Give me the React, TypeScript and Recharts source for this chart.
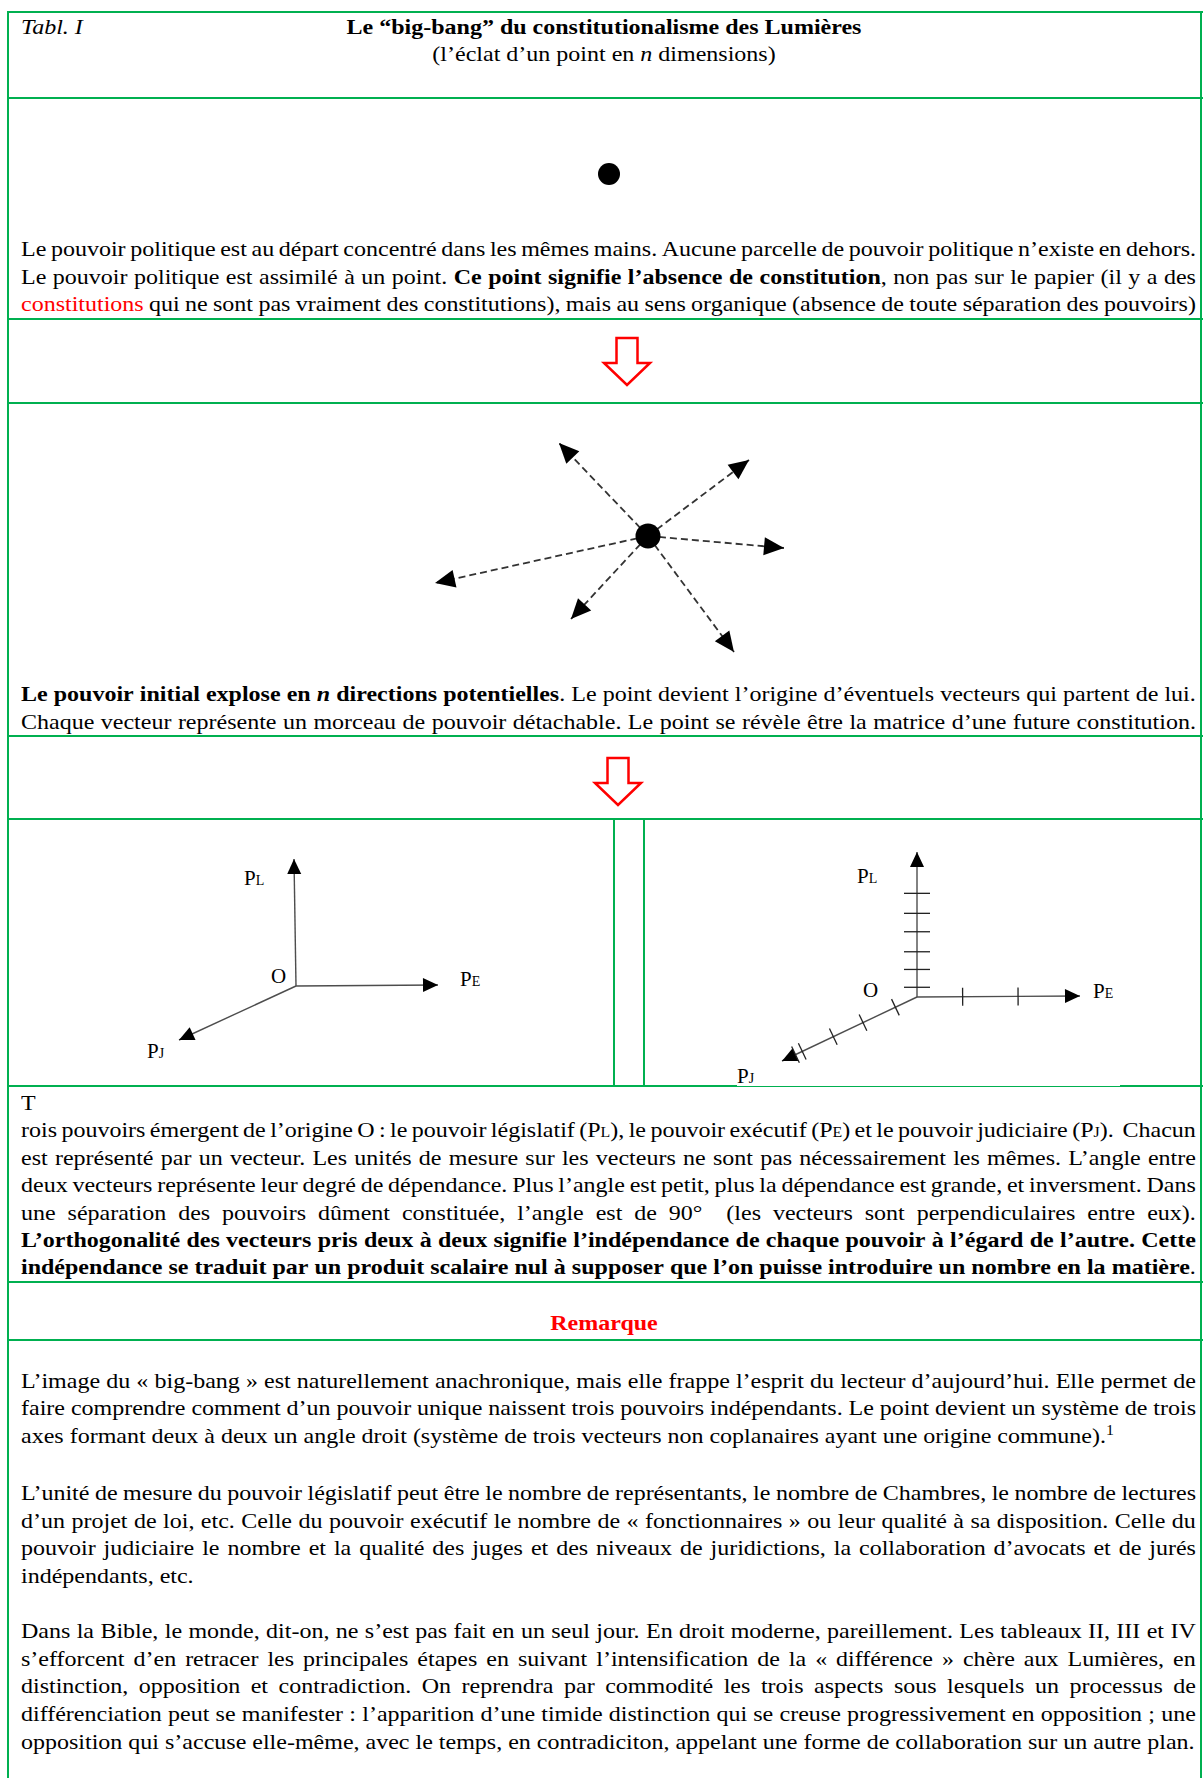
import React from 'react';
import { ScatterChart, Scatter, XAxis, YAxis } from 'recharts';

const GREEN = '#00B050';
const RED = '#FF0000';
const FONT = '"Liberation Serif", "Times New Roman", serif';

// table rules (page px)
const RULES_Y = [11, 97, 318, 402, 735, 818, 1085, 1281, 1339];
const SPLIT_X = [613, 643];

// the "big-bang": tips of the vectors leaving the point (x right, y up)
const BURST_TIPS = [
  { x: -89, y: 93 },
  { x: 101, y: 76 },
  { x: 136, y: -12 },
  { x: -213, y: -47 },
  { x: -77, y: -83 },
  { x: 86, y: -116 },
];

// three powers, left sketch (no units) and right sketch (graduated)
const AXES_LEFT = [
  { key: 'L', x: -2, y: 127 },
  { key: 'E', x: 142, y: 1 },
  { key: 'J', x: -117, y: -54 },
];
const AXES_RIGHT = [
  { key: 'L', x: 0, y: 145 },
  { key: 'E', x: 163, y: 1 },
  { key: 'J', x: -135, y: -64 },
];
// graduation marks, as a share of each vector's length
const TICKS_L = [0.067, 0.19, 0.312, 0.45, 0.577, 0.715];
const TICKS_E = [0.28, 0.62];
const TICKS_J = [0.16, 0.4, 0.62, 0.85, 0.9];

const LABELS_LEFT = [
  { x: -52, y: 101, main: 'P', sub: 'L' },
  { x: -25, y: 3, main: 'O', sub: '' },
  { x: 164, y: 0, main: 'P', sub: 'E' },
  { x: -149, y: -72, main: 'P', sub: 'J' },
];
const LABELS_RIGHT = [
  { x: -60, y: 114, main: 'P', sub: 'L' },
  { x: -54, y: 0, main: 'O', sub: '' },
  { x: 176, y: -1, main: 'P', sub: 'E' },
  { x: -180, y: -86, main: 'P', sub: 'J' },
];

// ---------- text ----------
type Seg = string | { t: string; b?: boolean; i?: boolean; red?: boolean; small?: boolean; sup?: boolean };
type TLine = { base: number; segs: Seg[]; mode?: 'justify' | 'left' };

const P1: TLine[] = [
  { base: 257.5, segs: ['Le pouvoir politique est au départ concentré dans les mêmes mains. Aucune parcelle de pouvoir politique n’existe en dehors.'] },
  { base: 285, segs: ['Le pouvoir politique est assimilé à un point. ', { t: 'Ce point signifie l’absence de constitution', b: true }, ', non pas sur le papier (il y a des'] },
  { base: 312.5, segs: [{ t: 'constitutions', red: true }, ' qui ne sont pas vraiment des constitutions), mais au sens organique (absence de toute séparation des pouvoirs)'] },
];
const P2: TLine[] = [
  { base: 702.5, segs: [{ t: 'Le pouvoir initial explose en ', b: true }, { t: 'n', b: true, i: true }, { t: ' directions potentielles', b: true }, '. Le point devient l’origine d’éventuels vecteurs qui partent de lui.'] },
  { base: 730, segs: ['Chaque vecteur représente un morceau de pouvoir détachable. Le point se révèle être la matrice d’une future constitution.'] },
];
const P3: TLine[] = [
  { base: 1111, segs: ['T'], mode: 'left' },
  { base: 1138.5, segs: ['rois pouvoirs émergent de l’origine O : le pouvoir législatif (P', { t: 'L', small: true }, '), le pouvoir exécutif (P', { t: 'E', small: true }, ') et le pouvoir judiciaire (P', { t: 'J', small: true }, ').  Chacun'] },
  { base: 1165.9, segs: ['est représenté par un vecteur. Les unités de mesure sur les vecteurs ne sont pas nécessairement les mêmes. L’angle entre'] },
  { base: 1193.3, segs: ['deux vecteurs représente leur degré de dépendance. Plus l’angle est petit, plus la dépendance est grande, et inversment. Dans'] },
  { base: 1220.7, segs: ['une séparation des pouvoirs dûment constituée, l’angle est de 90°  (les vecteurs sont perpendiculaires entre eux).'] },
  { base: 1248.1, segs: [{ t: 'L’orthogonalité des vecteurs pris deux à deux signifie l’indépendance de chaque pouvoir à l’égard de l’autre. Cette', b: true }] },
  { base: 1275.5, segs: [{ t: 'indépendance se traduit par un produit scalaire nul à supposer que l’on puisse introduire un nombre en la matière', b: true }, '.'] },
];
const R1: TLine[] = [
  { base: 1389, segs: ['L’image du « big-bang » est naturellement anachronique, mais elle frappe l’esprit du lecteur d’aujourd’hui. Elle permet de'] },
  { base: 1416.5, segs: ['faire comprendre comment d’un pouvoir unique naissent trois pouvoirs indépendants. Le point devient un système de trois'] },
  { base: 1444, segs: ['axes formant deux à deux un angle droit (système de trois vecteurs non coplanaires ayant une origine commune).', { t: '1', sup: true }], mode: 'left' },
];
const R2: TLine[] = [
  { base: 1501.5, segs: ['L’unité de mesure du pouvoir législatif peut être le nombre de représentants, le nombre de Chambres, le nombre de lectures'] },
  { base: 1529, segs: ['d’un projet de loi, etc. Celle du pouvoir exécutif le nombre de « fonctionnaires » ou leur qualité à sa disposition. Celle du'] },
  { base: 1556.5, segs: ['pouvoir judiciaire le nombre et la qualité des juges et des niveaux de juridictions, la collaboration d’avocats et de jurés'] },
  { base: 1584, segs: ['indépendants, etc.'], mode: 'left' },
];
const R3: TLine[] = [
  { base: 1639.5, segs: ['Dans la Bible, le monde, dit-on, ne s’est pas fait en un seul jour. En droit moderne, pareillement. Les tableaux II, III et IV'] },
  { base: 1667, segs: ['s’efforcent d’en retracer les principales étapes en suivant l’intensification de la « différence » chère aux Lumières, en'] },
  { base: 1694.5, segs: ['distinction, opposition et contradiction. On reprendra par commodité les trois aspects sous lesquels un processus de'] },
  { base: 1722, segs: ['différenciation peut se manifester : l’apparition d’une timide distinction qui se creuse progressivement en opposition ; une'] },
  { base: 1750, segs: ['opposition qui s’accuse elle-même, avec le temps, en contradiciton, appelant une forme de collaboration sur un autre plan.'], mode: 'left' },
];

const FS = 24;
const LH = 27.6;
const SY = 0.9;
const BASE_OFF = LH / 2 + (21.9 - LH / 2) * SY;
const TEXT_LEFT = 21;
const TEXT_W = 1175;

function segStyle(o: any): React.CSSProperties {
  return {
    fontWeight: o.b ? 700 : 400,
    fontStyle: o.i ? 'italic' : 'normal',
    color: o.red ? RED : undefined,
    fontSize: o.small || o.sup ? '0.66em' : undefined,
    verticalAlign: o.sup ? 'super' : undefined,
    lineHeight: o.sup ? 0 : undefined,
  };
}

function words(segs: Seg[]) {
  const out: any[][] = [[]];
  segs.forEach((s) => {
    const o = typeof s === 'string' ? { t: s } : s;
    o.t.split(' ').forEach((p, k) => {
      if (k > 0) out.push([]);
      if (p) out[out.length - 1].push({ ...o, t: p });
    });
  });
  return out;
}

function TextLine({ line }: { line: TLine }) {
  const base: React.CSSProperties = {
    position: 'absolute',
    left: TEXT_LEFT,
    width: TEXT_W,
    top: line.base - BASE_OFF,
    height: LH,
    lineHeight: `${LH}px`,
    fontSize: FS,
    whiteSpace: 'pre',
    transform: `scaleY(${SY})`,
  };
  if (line.mode === 'left') {
    return (
      <div style={base}>
        {line.segs.map((s, k) => {
          const o = typeof s === 'string' ? { t: s } : s;
          return <span key={k} style={segStyle(o)}>{o.t}</span>;
        })}
      </div>
    );
  }
  return (
    <div style={{ ...base, display: 'flex', justifyContent: 'space-between', alignItems: 'baseline' }}>
      {words(line.segs).map((w, i) => (
        <span key={i}>
          {w.map((o, k) => <span key={k} style={segStyle(o)}>{o.t}</span>)}
        </span>
      ))}
    </div>
  );
}

function Centered({ base, children, color, bold, italic }: any) {
  return (
    <div style={{
      position: 'absolute', left: 8, width: 1192, top: base - BASE_OFF, height: LH,
      lineHeight: `${LH}px`, fontSize: FS, textAlign: 'center', transform: `scaleY(${SY})`,
      color, fontWeight: bold ? 700 : 400, fontStyle: italic ? 'italic' : 'normal', whiteSpace: 'pre',
    }}>{children}</div>
  );
}

// ---------- chart helpers ----------
function headShape(len: number, hw: number) {
  return (props: any) => {
    const { cx, cy, payload } = props;
    if (!payload || !payload.tip) return <g />;
    const m = Math.hypot(payload.x, payload.y);
    const ux = payload.x / m;
    const uy = -payload.y / m;
    const bx = cx - ux * len;
    const by = cy - uy * len;
    const px = -uy * hw;
    const py = ux * hw;
    return <polygon points={`${cx},${cy} ${bx + px},${by + py} ${bx - px},${by - py}`} fill="#000" />;
  };
}

const tickShape = (props: any) => {
  const { cx, cy, payload } = props;
  const m = Math.hypot(payload.vx, payload.vy);
  const ux = payload.vx / m;
  const uy = -payload.vy / m;
  const h = payload.half;
  return <line x1={cx + uy * h} y1={cy - ux * h} x2={cx - uy * h} y2={cy + ux * h} stroke="#222" strokeWidth={1.3} />;
};

const labelShape = (props: any) => {
  const { cx, cy, payload } = props;
  return (
    <text x={cx} y={cy} fontFamily={FONT} fontSize={21} fill="#000">
      {payload.main}
      {payload.sub ? <tspan fontSize={14}>{payload.sub}</tspan> : null}
    </text>
  );
};

const dotShape = (r: number) => (props: any) => <circle cx={props.cx} cy={props.cy} r={r} fill="#000" />;

const redArrowShape = (props: any) => {
  const { cx, cy } = props;
  const sw = 10.5;
  const hw = 23;
  const shaft = 25;
  const head = 22;
  const pts = [
    [cx - sw, cy], [cx + sw, cy], [cx + sw, cy + shaft], [cx + hw, cy + shaft],
    [cx, cy + shaft + head], [cx - hw, cy + shaft], [cx - sw, cy + shaft],
  ].map((p) => p.join(',')).join(' ');
  return <polygon points={pts} fill="#fff" stroke={RED} strokeWidth={2.5} strokeLinejoin="miter" />;
};

function Frame({ left, top, width, height, ox, oy, children }: any) {
  return (
    <div style={{ position: 'absolute', left, top, width, height }}>
      <ScatterChart width={width} height={height} margin={{ top: 0, right: 0, bottom: 0, left: 0 }}>
        <XAxis type="number" dataKey="x" domain={[-ox, width - ox]} hide allowDataOverflow height={0} />
        <YAxis type="number" dataKey="y" domain={[oy - height, oy]} hide allowDataOverflow width={0} />
        {children}
      </ScatterChart>
    </div>
  );
}

function vectorData(v: { x: number; y: number }) {
  return [{ x: 0, y: 0 }, { x: v.x, y: v.y, tip: true }];
}

function ticksFor(axes: { key: string; x: number; y: number }[]) {
  const spec: Record<string, [number[], number]> = { L: [TICKS_L, 13], E: [TICKS_E, 9], J: [TICKS_J, 9] };
  const out: any[] = [];
  axes.forEach((a) => {
    const [fr, half] = spec[a.key];
    fr.forEach((f) => out.push({ x: a.x * f, y: a.y * f, vx: a.x, vy: a.y, half }));
  });
  return out;
}

function RedArrow({ cx, top }: { cx: number; top: number }) {
  return (
    <Frame left={cx - 30} top={top - 5} width={60} height={60} ox={30} oy={5}>
      <Scatter data={[{ x: 0, y: 0 }]} shape={redArrowShape} isAnimationActive={false} />
    </Frame>
  );
}

function PowersSketch({ left, top, width, height, ox, oy, axes, labels, graduated }: any) {
  return (
    <Frame left={left} top={top} width={width} height={height} ox={ox} oy={oy}>
      {axes.map((a: any) => (
        <Scatter
          key={a.key}
          data={vectorData(a)}
          line={{ stroke: '#4d4d4d', strokeWidth: 1.4 }}
          lineType="joint"
          shape={headShape(15, 7)}
          isAnimationActive={false}
        />
      ))}
      {graduated ? <Scatter data={ticksFor(axes)} shape={tickShape} isAnimationActive={false} /> : null}
      <Scatter data={labels} shape={labelShape} isAnimationActive={false} />
    </Frame>
  );
}

export default function App() {
  const all = [...P1, ...P2, ...P3, ...R1, ...R2, ...R3];
  return (
    <div style={{ position: 'absolute', left: 0, top: 0, width: 1203, height: 1778, overflow: 'hidden', background: '#fff', fontFamily: FONT, color: '#000' }}>
      {/* header */}
      <div style={{ position: 'absolute', left: TEXT_LEFT, top: 35 - BASE_OFF, height: LH, lineHeight: `${LH}px`, fontSize: FS, fontStyle: 'italic', transform: `scaleY(${SY})` }}>Tabl. I</div>
      <Centered base={35} bold>Le “big-bang” du constitutionalisme des Lumières</Centered>
      <Centered base={62}>(l’éclat d’un point en <i>n</i> dimensions)</Centered>

      {/* the initial point */}
      <Frame left={509} top={124} width={200} height={100} ox={100} oy={50}>
        <Scatter data={[{ x: 0, y: 0 }]} shape={dotShape(11)} isAnimationActive={false} />
      </Frame>

      <RedArrow cx={627} top={338} />

      {/* explosion */}
      <Frame left={400} top={420} width={420} height={250} ox={248} oy={116}>
        {BURST_TIPS.map((v, i) => (
          <Scatter
            key={i}
            data={vectorData(v)}
            line={{ stroke: '#333', strokeWidth: 1.8, strokeDasharray: '7 4' }}
            lineType="joint"
            shape={headShape(20, 9)}
            isAnimationActive={false}
          />
        ))}
        <Scatter data={[{ x: 0, y: 0 }]} shape={dotShape(12.5)} isAnimationActive={false} />
      </Frame>

      <RedArrow cx={618} top={758} />

      <PowersSketch left={116} top={840} width={400} height={240} ox={180} oy={146} axes={AXES_LEFT} labels={LABELS_LEFT} />
      <PowersSketch left={717} top={835} width={440} height={270} ox={200} oy={162} axes={AXES_RIGHT} labels={LABELS_RIGHT} graduated />

      <Centered base={1331} color={RED} bold>Remarque</Centered>

      {all.map((l, i) => <TextLine key={i} line={l} />)}

      {/* table borders */}
      {RULES_Y.map((y) => (
        <div key={y} style={{ position: 'absolute', left: 7, top: y, width: 1196, height: 2, background: GREEN }} />
      ))}
      <div style={{ position: 'absolute', left: 7, top: 11, width: 2, height: 1767, background: GREEN }} />
      <div style={{ position: 'absolute', left: 1200, top: 11, width: 2, height: 1767, background: GREEN }} />
      {SPLIT_X.map((x) => (
        <div key={x} style={{ position: 'absolute', left: x, top: 818, width: 2, height: 269, background: GREEN }} />
      ))}
      <div style={{ position: 'absolute', left: 737, top: 1085, width: 383, height: 1, background: '#fff' }} />
    </div>
  );
}
